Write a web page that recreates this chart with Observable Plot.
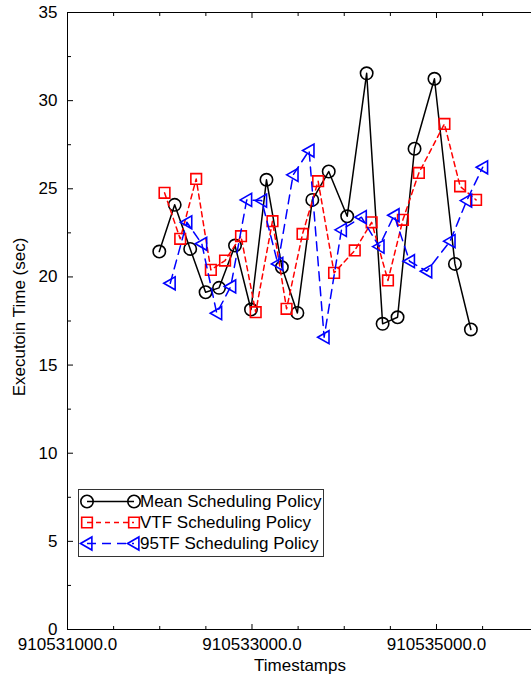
<!DOCTYPE html>
<html><head><meta charset="utf-8">
<script src="https://cdn.jsdelivr.net/npm/d3@7"></script>
<script src="https://cdn.jsdelivr.net/npm/@observablehq/plot@0.6"></script>
<style>body{margin:0;background:#fff;}</style>
</head><body><div id="chart"></div>
<script>
// ---- data ----
const meanTime = [910531995, 910532162, 910532330, 910532497, 910532643, 910532816, 910532989, 910533157, 910533324, 910533492, 910533654, 910533832, 910534032, 910534243, 910534416, 910534578, 910534762, 910534978, 910535200, 910535373];
const meanExec = [21.44, 24.09, 21.59, 19.13, 19.38, 21.78, 18.15, 25.51, 20.55, 17.96, 24.37, 25.98, 23.44, 31.55, 17.34, 17.71, 27.27, 31.24, 20.74, 17.02];

const vtfTime = [910532052, 910532222, 910532395, 910532554, 910532708, 910532881, 910533040, 910533222, 910533375, 910533548, 910533717, 910533890, 910534114, 910534297, 910534474, 910534636, 910534809, 910535086, 910535256, 910535429];
const vtfExec = [24.77, 22.16, 25.56, 20.40, 20.93, 22.31, 18.00, 23.16, 18.19, 22.44, 25.43, 20.23, 21.50, 23.10, 19.80, 23.24, 25.90, 28.68, 25.14, 24.37];

const tf95Time = [910532114, 910532294, 910532456, 910532618, 910532770, 910532943, 910533105, 910533281, 910533446, 910533619, 910533782, 910533970, 910534186, 910534378, 910534541, 910534708, 910534895, 910535148, 910535328, 910535501];
const tf95Exec = [19.64, 23.10, 21.88, 17.94, 19.46, 24.37, 24.33, 20.74, 25.79, 27.17, 16.58, 22.67, 23.39, 21.72, 23.50, 20.89, 20.32, 22.03, 24.33, 26.22];

const seriesNames = ["Mean Scheduling Policy", "VTF Scheduling Policy", "95TF Scheduling Policy"];
const xTitle = "Timestamps";
const yTitle = "Executoin Time (sec)";

const xMajorTicks = [910531000, 910533000, 910535000];
const xMinorTicks = [910531500, 910532000, 910532500, 910533500, 910534000, 910534500, 910535500];
const yMajorTicks = [0, 5, 10, 15, 20, 25, 30, 35];
const yMinorTicks = [2.5, 7.5, 12.5, 17.5, 22.5, 27.5, 32.5];

// ---- styles ----
const leftTriangle = {
  draw(ctx, size) {
    const r = Math.sqrt(size / Math.PI);
    ctx.moveTo(-r, 0);
    ctx.lineTo(r * 0.75, -r);
    ctx.lineTo(r * 0.75, r);
    ctx.closePath();
  }
};
const styles = [
  {stroke: "#000000", dash: null, symbol: "circle", r: 6.2},
  {stroke: "#ff0000", dash: "5,4", symbol: "square", r: 6},
  {stroke: "#0000ff", dash: "9,6", symbol: leftTriangle, r: 6.5}
];

const mk = (t, v) => t.map((d, i) => ({t: d, v: v[i]}));
const series = [mk(meanTime, meanExec), mk(vtfTime, vtfExec), mk(tf95Time, tf95Exec)];

const xDomain = [910531000, 910536030];

const marks = [
  Plot.ruleY([0, 35], {stroke: "#000", strokeWidth: 1}),
  Plot.ruleX([xDomain[0]], {stroke: "#000", strokeWidth: 1}),
  Plot.axisY(yMajorTicks, {anchor: "left", tickSize: -6, tickPadding: 16, tickFormat: d => String(d), label: null}),
  Plot.axisY(yMinorTicks, {anchor: "left", tickSize: -4, tickFormat: () => "", label: null}),
  Plot.axisX(xMajorTicks, {anchor: "bottom", tickSize: -5, tickPadding: 13, tickFormat: d3.format(".1f"), label: null}),
  Plot.axisX(xMinorTicks, {anchor: "bottom", tickSize: -3, tickFormat: () => "", label: null}),
  Plot.axisX(xMajorTicks, {anchor: "top", tickSize: -5, tickFormat: () => "", label: null}),
  Plot.axisX(xMinorTicks, {anchor: "top", tickSize: -3, tickFormat: () => "", label: null})
];
series.forEach((data, i) => {
  const s = styles[i];
  marks.push(Plot.line(data, {x: "t", y: "v", stroke: s.stroke, strokeWidth: 1.5, strokeDasharray: s.dash}));
  marks.push(Plot.dot(data, {x: "t", y: "v", stroke: s.stroke, fill: "none", strokeWidth: 1.6, symbol: s.symbol, r: s.r}));
});

const chart = Plot.plot({
  width: 531,
  height: 681,
  marginLeft: 67,
  marginRight: 0,
  marginTop: 12,
  marginBottom: 52,
  style: {fontFamily: "'Liberation Sans', Arial, sans-serif", fontSize: "17px", color: "#000", background: "#fff"},
  x: {type: "linear", domain: xDomain},
  y: {domain: [0, 35]},
  marks
});
document.getElementById("chart").appendChild(chart);

const svg = d3.select(chart);

// ---- axis titles ----
svg.append("text").attr("x", 300).attr("y", 671).attr("text-anchor", "middle")
  .attr("font-size", 17).attr("fill", "#000").text(xTitle);
svg.append("text").attr("transform", "translate(25,317) rotate(-90)").attr("text-anchor", "middle")
  .attr("font-size", 17).attr("fill", "#000").text(yTitle);

// ---- legend (inside plot) ----
const lg = svg.append("g");
lg.append("rect").attr("x", 78.5).attr("y", 489.5).attr("width", 245).attr("height", 67)
  .attr("fill", "#fff").attr("stroke", "#333").attr("stroke-width", 1);
seriesNames.forEach((name, i) => {
  const s = styles[i];
  const yy = 501.5 + i * 21;
  const x1 = 87, x2 = 134;
  lg.append("line").attr("x1", x1).attr("x2", x2).attr("y1", yy).attr("y2", yy)
    .attr("stroke", s.stroke).attr("stroke-width", 1.5).attr("stroke-dasharray", s.dash);
  const symType = s.symbol === "circle" ? d3.symbolCircle : s.symbol === "square" ? d3.symbolSquare : s.symbol;
  const path = d3.symbol(symType, s.r * s.r * Math.PI)();
  [x1, x2].forEach(xx => lg.append("path").attr("d", path).attr("transform", `translate(${xx},${yy})`)
    .attr("fill", "none").attr("stroke", s.stroke).attr("stroke-width", 1.6));
  lg.append("text").attr("x", 140).attr("y", yy).attr("dy", "0.35em").attr("text-anchor", "start")
    .attr("font-size", 17).attr("fill", "#000").text(name);
});
</script>
</body></html>
